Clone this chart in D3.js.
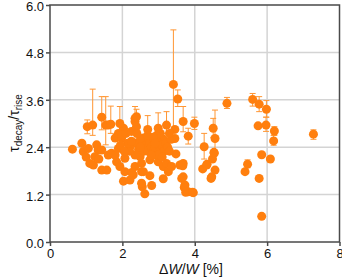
<!DOCTYPE html>
<html><head><meta charset="utf-8">
<script src="https://cdn.jsdelivr.net/npm/d3@7"></script>
<style>body{margin:0;background:#fff}svg{display:block}text{font-family:"Liberation Sans",Arial,sans-serif}</style>
</head><body><svg id="c" width="342" height="278"></svg>
<script>
const xTicks=[0,2,4,6,8];
const yTicks=[0,1.2,2.4,3.6,4.8,6.0];
// points with error bars: x, y, lower, upper
const ebX=[1.03,1.18,1.43,1.54,1.68,1.93,2.35,2.39,2.70,2.99,3.22,3.41,3.53,3.68,3.82,3.99,4.26,4.51,4.56,4.89,5.60,5.78,5.98,5.97,6.20,7.28,6.18,5.46,2.90];
const ebY=[2.92,2.96,3.16,2.96,2.98,3.00,3.05,3.17,2.85,2.88,2.96,3.99,3.62,3.05,2.68,3.00,2.41,2.88,2.62,3.51,3.61,3.49,3.36,2.96,2.81,2.73,2.56,1.97,2.50];
const ebLo=[2.74,2.70,2.84,2.46,2.75,2.50,2.20,2.95,2.60,2.60,2.75,2.84,3.43,2.79,2.48,2.85,2.10,2.65,2.30,3.38,3.44,3.30,3.16,2.80,2.70,2.60,2.45,1.88,2.25];
const ebHi=[3.09,3.87,3.68,3.68,3.44,3.43,3.43,3.36,3.20,3.27,3.30,5.37,3.85,3.43,2.88,3.16,2.75,3.13,3.34,3.66,3.76,3.68,3.58,3.16,2.92,2.84,2.70,2.08,2.70];
// points without visible error bars
const pX=[0.62,0.88,0.92,1.06,1.29,1.33,1.24,1.10,1.20,1.43,1.57,1.43,1.61,1.70,1.80,1.84,1.93,2.07,1.80,1.89,2.21,2.07,2.03,2.21,2.30,2.35,2.53,2.55,2.49,2.58,2.35,1.98,2.03,1.89,1.98,2.39,2.35,1.61,2.26,2.81,2.62,2.76,2.53,3.13,2.53,2.58,2.76,2.90,2.99,3.13,3.27,3.22,3.59,3.64,3.73,3.82,3.96,3.45,3.45,3.13,2.90,2.67,2.58,4.53,4.33,4.56,4.47,4.45,3.68,3.68,3.36,3.48,3.67,3.71,4.22,4.34,4.49,4.54,5.85,6.09,5.39,5.78,5.85,5.75,
2.40,2.45,2.50,2.60,2.65,2.70,2.75,2.80,2.85,2.90,2.95,3.00,3.05,3.10,3.15,3.20,3.25,3.30,3.00,2.80,3.10,2.70,2.50,3.35,3.30,3.05,2.85,2.20,2.15,2.25,2.10,2.25,2.40,1.95,2.05,1.00,1.35,3.75,3.94];
const pY=[2.35,2.50,2.29,2.37,2.46,2.33,2.16,1.99,1.95,1.82,1.82,2.33,2.20,2.25,2.20,2.03,1.91,2.12,2.63,2.37,2.41,1.78,1.54,1.57,1.70,1.91,1.78,1.40,2.16,2.63,2.20,2.63,2.88,2.75,2.71,2.92,3.13,2.96,1.76,1.43,1.22,1.68,1.49,1.60,1.99,1.78,2.08,2.20,2.03,1.91,1.78,1.99,1.95,1.61,1.44,1.27,1.25,2.85,2.62,2.60,2.58,2.62,2.41,2.27,1.95,1.82,1.65,1.61,1.99,1.65,1.91,2.23,1.93,1.38,1.85,1.97,2.10,2.25,2.21,2.10,1.78,1.61,0.65,2.94,
2.50,2.35,2.60,2.30,2.45,2.30,2.50,2.40,2.30,2.40,2.70,2.50,2.35,2.45,2.30,2.50,2.40,2.30,2.20,2.20,2.15,2.70,2.40,2.60,2.75,2.75,2.65,2.30,2.50,2.55,2.75,2.80,2.75,2.45,2.30,2.15,2.10,1.26,1.26];

const svg=d3.select("#c");
const L=50,R=339.5,T=5,B=242;
const x=d3.scaleLinear().domain([0,8]).range([L,R]);
const y=d3.scaleLinear().domain([0,6]).range([B,T]);
const orange="#ff7f0e";

// grid
svg.append("g").selectAll("line").data(xTicks.slice(1,-1)).join("line")
 .attr("x1",d=>x(d)).attr("x2",d=>x(d)).attr("y1",T).attr("y2",B)
 .attr("stroke","#d4d4d4").attr("stroke-width",1.5);
svg.append("g").selectAll("line").data(yTicks.slice(1,-1)).join("line")
 .attr("y1",d=>y(d)).attr("y2",d=>y(d)).attr("x1",L).attr("x2",R)
 .attr("stroke","#d4d4d4").attr("stroke-width",1.5);

// error bars
const eb=d3.range(ebX.length);
const ge=svg.append("g").attr("stroke","#ff9633").attr("stroke-width",1);
ge.selectAll(".v").data(eb).join("line").attr("x1",i=>x(ebX[i])).attr("x2",i=>x(ebX[i]))
 .attr("y1",i=>y(ebLo[i])).attr("y2",i=>y(ebHi[i]));
ge.selectAll(".t").data(eb).join("line").attr("x1",i=>x(ebX[i])-3).attr("x2",i=>x(ebX[i])+3)
 .attr("y1",i=>y(ebHi[i])).attr("y2",i=>y(ebHi[i]));
ge.selectAll(".b").data(eb).join("line").attr("x1",i=>x(ebX[i])-3).attr("x2",i=>x(ebX[i])+3)
 .attr("y1",i=>y(ebLo[i])).attr("y2",i=>y(ebLo[i]));

// points
const gp=svg.append("g").attr("fill",orange);
gp.selectAll(".p").data(d3.range(pX.length)).join("circle").attr("cx",i=>x(pX[i])).attr("cy",i=>y(pY[i])).attr("r",4.5);
gp.selectAll(".e").data(eb).join("circle").attr("cx",i=>x(ebX[i])).attr("cy",i=>y(ebY[i])).attr("r",4.5);

// frame
svg.append("rect").attr("x",L).attr("y",T).attr("width",R-L).attr("height",B-T)
 .attr("fill","none").attr("stroke","#4a4a4a").attr("stroke-width",1.5);

// axes
const xa=svg.append("g").attr("transform",`translate(0,${B})`)
 .call(d3.axisBottom(x).tickValues(xTicks).tickFormat(d3.format("d")).tickSize(4).tickPadding(3));
const ya=svg.append("g").attr("transform",`translate(${L},0)`)
 .call(d3.axisLeft(y).tickValues(yTicks).tickFormat(d3.format(".1f")).tickSize(4).tickPadding(2));
[xa,ya].forEach(a=>{a.select(".domain").remove();a.selectAll("line").attr("stroke","#4a4a4a").attr("stroke-width",1.5);
 a.selectAll("text").attr("font-size",13).attr("fill","#111").style("font-family","'Liberation Sans',Arial,sans-serif");});
ya.selectAll("text").attr("dy","0.42em");

// axis labels
const xl=svg.append("text").attr("x",191).attr("y",274).attr("text-anchor","middle").attr("font-size",14).attr("fill","#111");
xl.append("tspan").text("Δ");
xl.append("tspan").attr("font-style","italic").text("W");
xl.append("tspan").text("/");
xl.append("tspan").attr("font-style","italic").text("W");
xl.append("tspan").text(" [%]");

const yl=svg.append("text").attr("transform","translate(19,123) rotate(-90)").attr("text-anchor","middle").attr("font-size",14).attr("fill","#111");
yl.append("tspan").text("τ");
yl.append("tspan").attr("font-size",10).attr("dy",3).text("decay");
yl.append("tspan").attr("dy",-3).text("/τ");
yl.append("tspan").attr("font-size",10).attr("dy",3).text("rise");
</script></body></html>
